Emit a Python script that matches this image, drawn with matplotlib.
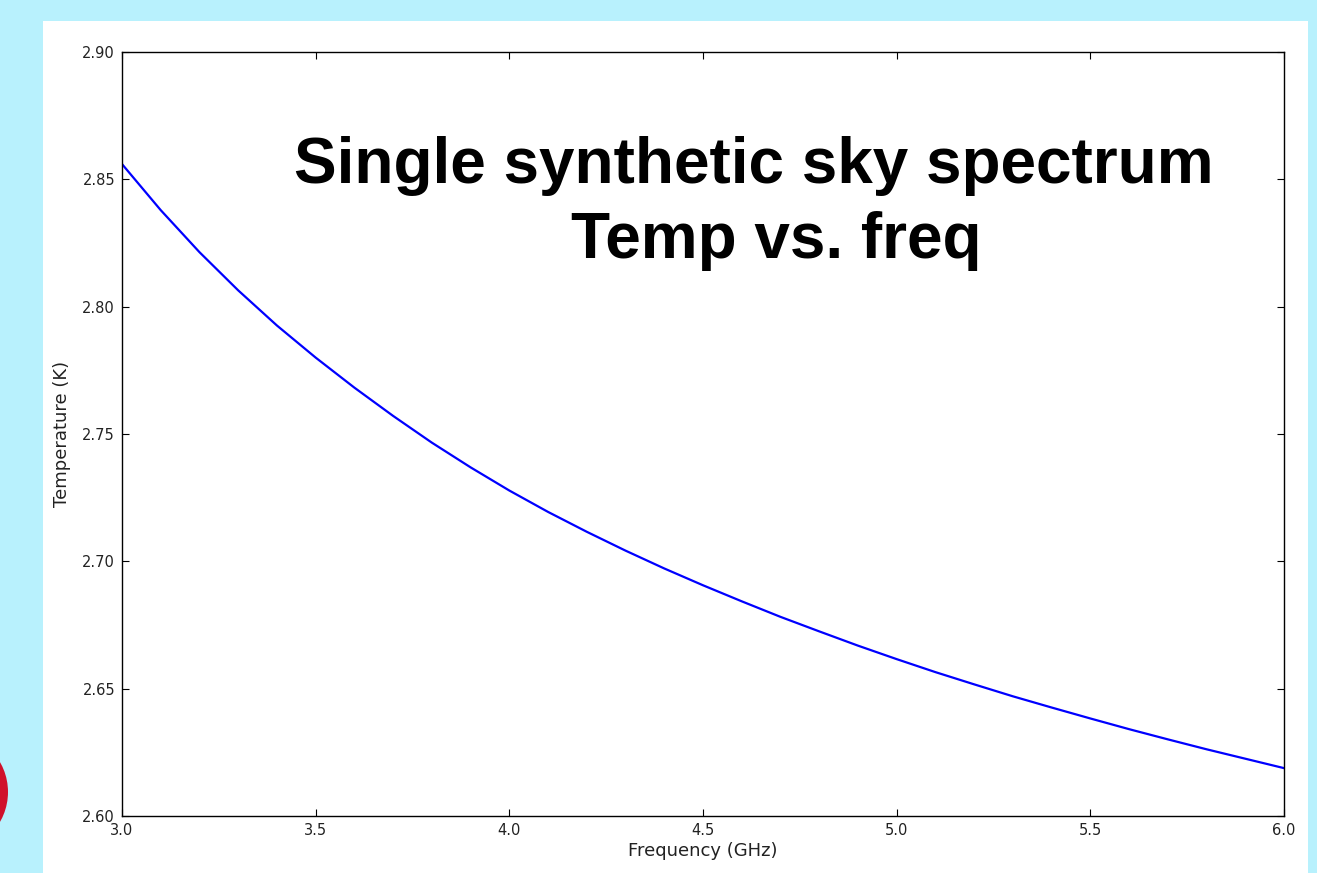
import numpy as np
import matplotlib
matplotlib.use('Agg')
import matplotlib.pyplot as plt
from matplotlib.patches import Rectangle, Ellipse

# values (every 0.1 GHz)
freq_ghz = [3.0, 3.1, 3.2, 3.3, 3.4, 3.5, 3.6, 3.7, 3.8, 3.9,
            4.0, 4.1, 4.2, 4.3, 4.4, 4.5, 4.6, 4.7, 4.8, 4.9,
            5.0, 5.1, 5.2, 5.3, 5.4, 5.5, 5.6, 5.7, 5.8, 5.9, 6.0]
temp_k = [2.8560, 2.8379, 2.8214, 2.8064, 2.7926, 2.7800, 2.7682, 2.7571, 2.7466, 2.7369,
          2.7278, 2.7194, 2.7116, 2.7042, 2.6972, 2.6906, 2.6843, 2.6782, 2.6725, 2.6669,
          2.6616, 2.6565, 2.6517, 2.6470, 2.6426, 2.6383, 2.6341, 2.6301, 2.6262, 2.6225, 2.6188]

x_ticks = [3.0, 3.5, 4.0, 4.5, 5.0, 5.5, 6.0]
y_ticks = [2.60, 2.65, 2.70, 2.75, 2.80, 2.85, 2.90]

title_line1 = "Single synthetic sky spectrum"
title_line2 = "Temp vs. freq"

W, H = 1317, 873
fig = plt.figure(figsize=(W / 100, H / 100), dpi=100)
fig.set_facecolor('#b8f1fd')

# white slide panel and the red dot peeking in at the left edge
fig.add_artist(Rectangle((43 / W, 0), (1308 - 43) / W, (H - 21) / H,
                         transform=fig.transFigure, facecolor='white', edgecolor='none', zorder=0))
fig.add_artist(Ellipse((-52 / W, 1 - 792 / H), 2 * 60 / W, 2 * 60 / H,
                       transform=fig.transFigure, facecolor='#d0112b', edgecolor='none', zorder=0))

ax = fig.add_axes([122 / W, 1 - 816 / H, (1284 - 122) / W, (816 - 52) / H])
ax.set_facecolor('white')
ax.plot(freq_ghz, temp_k, color='#0000ff', linewidth=1.6)

ax.set_xlim(3.0, 6.0)
ax.set_ylim(2.60, 2.90)
ax.set_xticks(x_ticks)
ax.set_xticklabels([f"{v:.1f}" for v in x_ticks])
ax.set_yticks(y_ticks)
ax.set_yticklabels([f"{v:.2f}" for v in y_ticks])
ax.tick_params(direction='in', top=True, right=True, length=5, width=0.8,
               labelsize=10.5, pad=5, colors='black', labelcolor='#222222')
for s in ax.spines.values():
    s.set_linewidth(1.0)
    s.set_color('black')

ax.set_xlabel("Frequency (GHz)", fontsize=13, color='#222222', labelpad=3)
ax.set_ylabel("Temperature (K)", fontsize=13, color='#222222', labelpad=8)

fig.text(754 / W, 1 - 183 / H, title_line1, fontsize=46, fontweight='bold',
         family='Liberation Sans', ha='center', va='baseline', color='black')
fig.text(776 / W, 1 - 258 / H, title_line2, fontsize=46, fontweight='bold',
         family='Liberation Sans', ha='center', va='baseline', color='black')

fig.savefig('out.png', dpi=100, facecolor=fig.get_facecolor())
